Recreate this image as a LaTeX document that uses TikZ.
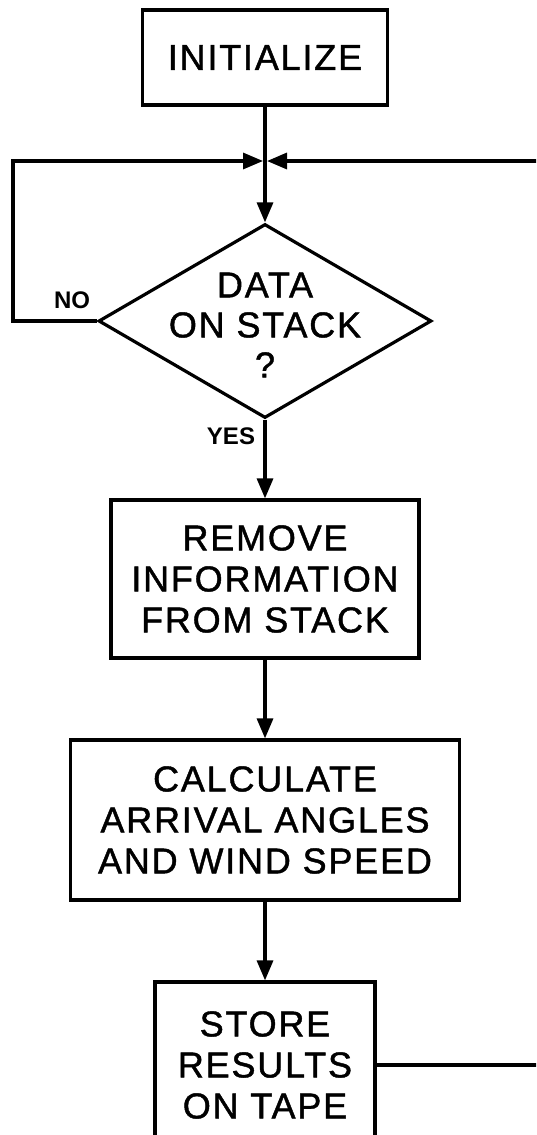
\documentclass[tikz,border=0pt]{standalone}
\usepackage{fontspec}
\setmainfont{Liberation Sans}
\newfontfamily\lettering[LetterSpace=5, FakeBold=1.2]{Liberation Sans}
\usetikzlibrary{shapes.geometric, arrows.meta, positioning}

\begin{document}
\begin{tikzpicture}[x=1pt, y=1pt]
    % Styles
    \tikzstyle{process} = [draw, line width=3.2pt, align=center, inner sep=0pt, font=\lettering\fontsize{36}{41}\selectfont]
    \tikzstyle{decision} = [draw, diamond, line width=3.2pt, inner sep=0pt, minimum width=333pt, minimum height=194pt]
    \tikzstyle{answer} = [font=\bfseries\fontsize{24}{27}\selectfont]
    \tikzstyle{arrow} = [draw, line width=3.2pt, -{Triangle[length=20pt, width=16pt]}]

    % Frame (the loop runs off the page on the right and at the bottom)
    \useasboundingbox (0,0) rectangle (536,-1135);
    \clip (0,0) rectangle (536,-1135);

    % Boxes
    \node[process, minimum width=245pt, minimum height=95pt] (init) at (265,-57.5) {INITIALIZE};
    \node[decision] (dec) at (265,-321) {};
    \node[font=\lettering\fontsize{36}{40}\selectfont, align=center] (dectext) at (265,-325) {DATA\\ON STACK\\?};
    \node[process, minimum width=308pt, minimum height=158pt] (remove) at (265,-579) {REMOVE\\INFORMATION\\FROM STACK};
    \node[process, minimum width=389pt, minimum height=160pt] (calc) at (265,-820) {CALCULATE\\ARRIVAL ANGLES\\AND WIND SPEED};
    \node[process, minimum width=220pt, minimum height=166pt] (store) at (265,-1065) {STORE\\RESULTS\\ON TAPE};

    % Junction
    \coordinate (junc) at (265,-161);

    % Arrows
    \draw[arrow] (init) -- (dec);
    \draw[arrow] (dec) -- (remove);
    \draw[arrow] (remove) -- (calc);
    \draw[arrow] (calc) -- (store);
    \draw[arrow] (dec.west) -- ++(-84,0) |- ([xshift=-2pt]junc);
    \draw[arrow] (store.east) -- ++(200,0) |- ([xshift=2pt]junc);

    % Labels
    \node[answer] (no) at (72,-300) {NO};
    \node[answer] (yes) at (231,-436) {YES};
\end{tikzpicture}
\end{document}
